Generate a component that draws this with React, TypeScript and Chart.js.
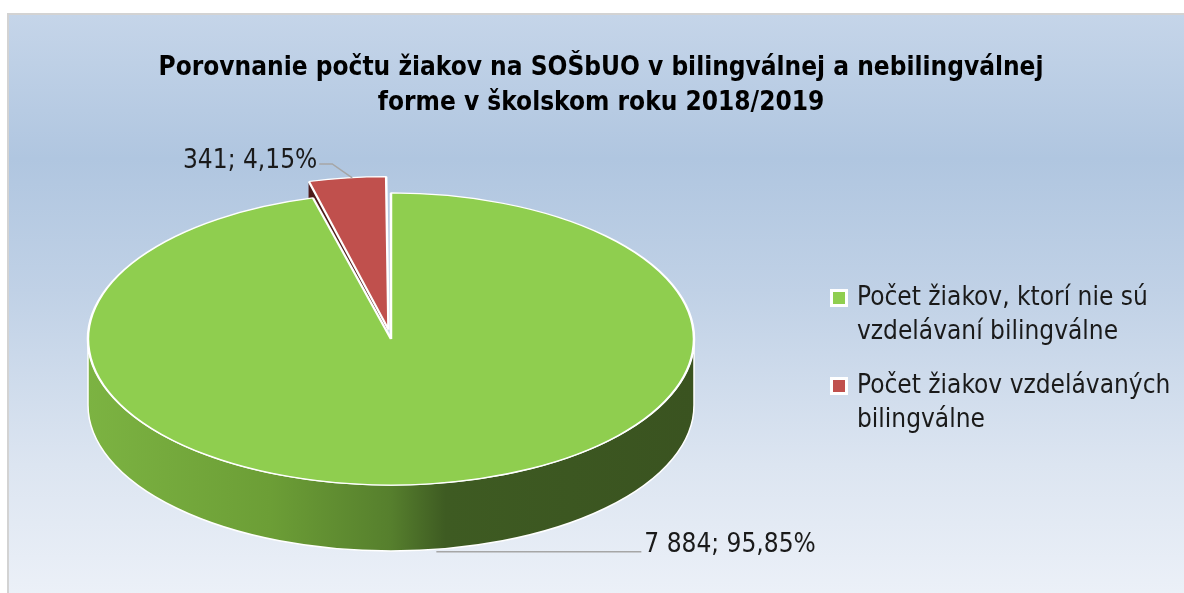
import React, { useEffect, useRef } from "react";
import { Chart, registerables } from "chart.js";

Chart.register(...registerables);

// ---- data ----
const categories = [
  "Počet žiakov, ktorí nie sú vzdelávaní bilingválne",
  "Počet žiakov vzdelávaných bilingválne",
];
const legendLines = [
  ["Počet žiakov, ktorí nie sú", "vzdelávaní bilingválne"],
  ["Počet žiakov vzdelávaných", "bilingválne"],
];
const studentCounts = [7884, 341];
const titleLines = [
  "Porovnanie počtu žiakov na SOŠbUO v bilingválnej a nebilingválnej",
  "forme v školskom roku 2018/2019",
];
const sliceColors = ["#8fce4f", "#c0504d"];
const sliceOffsets = [0, 78];

const FONT = '"Liberation Sans Narrow", "DejaVu Sans Condensed", "Open Sans", sans-serif';
const K = 0.482; // vertical squash of the pie (3D tilt)
const DEPTH = 66; // thickness of the pie

function fmtNum(v: number) {
  return String(v).replace(/\B(?=(\d{3})+(?!\d))/g, " ");
}
function fmtPct(v: number, total: number) {
  return ((v / total) * 100).toFixed(2).replace(".", ",") + "%";
}

function arcGeom(el: any) {
  const p = el.getProps(["x", "y", "startAngle", "endAngle", "outerRadius"], true);
  const off = (el.options.offset || 0) / 4;
  const circ = p.endAngle - p.startAngle;
  const fix = 1 - Math.sin(Math.min(Math.PI, circ || 0));
  const T = off + off * fix;
  const h = (p.startAngle + p.endAngle) / 2;
  const cx = p.x + Math.cos(h) * T;
  const cyC = p.y + Math.sin(h) * T; // in circle space
  return { ...p, h, T, cx, cyC };
}

const pie3d = {
  id: "pie3d",
  beforeDatasetsDraw(chart: any) {
    const ctx = chart.ctx;
    const meta = chart.getDatasetMeta(0);
    const cy = meta.data[0].y;
    const toY = (yc: number) => cy + (yc - cy) * K;
    ctx.save();
    // radial walls (facing front)
    meta.data.forEach((el: any) => {
      const g = arcGeom(el);
      const R = g.outerRadius;
      const ax = g.cx, ay = toY(g.cyC);
      const edges: number[] = [];
      if (Math.cos(g.startAngle) < -1e-6) edges.push(g.startAngle);
      if (Math.cos(g.endAngle) > 1e-6) edges.push(g.endAngle);
      edges.forEach((a) => {
        const ox = ax + Math.cos(a) * R;
        const oy = ay + Math.sin(a) * R * K;
        ctx.beginPath();
        ctx.moveTo(ax, ay);
        ctx.lineTo(ox, oy);
        ctx.lineTo(ox, oy + DEPTH);
        ctx.lineTo(ax, ay + DEPTH);
        ctx.closePath();
        ctx.fillStyle = "#4e1b1a";
        ctx.fill();
      });
    });
    // outer front walls
    meta.data.forEach((el: any, i: number) => {
      const g = arcGeom(el);
      const R = g.outerRadius;
      const ex = g.cx, ey = toY(g.cyC);
      for (const base of [-2 * Math.PI, 0, 2 * Math.PI]) {
        const lo = Math.max(g.startAngle, base);
        const hi = Math.min(g.endAngle, base + Math.PI);
        if (hi <= lo) continue;
        ctx.beginPath();
        ctx.ellipse(ex, ey, R, R * K, 0, lo, hi, false);
        ctx.ellipse(ex, ey + DEPTH, R, R * K, 0, hi, lo, true);
        ctx.closePath();
        const grad = ctx.createLinearGradient(ex - R, 0, ex + R, 0);
        if (i === 0) {
          grad.addColorStop(0, "#7cb342");
          grad.addColorStop(0.3, "#6c9e36");
          grad.addColorStop(0.5, "#567f2d");
          grad.addColorStop(0.59, "#3e5b22");
          grad.addColorStop(1, "#3a5320");
        } else {
          grad.addColorStop(0, "#a04341");
          grad.addColorStop(1, "#5c2221");
        }
        ctx.fillStyle = grad;
        ctx.fill();
        ctx.strokeStyle = "#ffffff";
        ctx.lineWidth = 1.5;
        ctx.stroke();
      }
    });
    // squash for the top faces drawn by Chart.js
    ctx.translate(0, cy);
    ctx.scale(1, K);
    ctx.translate(0, -cy);
  },
  afterDatasetsDraw(chart: any) {
    chart.ctx.restore();
  },
  afterDraw(chart: any) {
    const ctx = chart.ctx;
    const meta = chart.getDatasetMeta(0);
    const cy = meta.data[0].y;
    const toY = (yc: number) => cy + (yc - cy) * K;
    const vals: number[] = chart.data.datasets[0].data;
    const total = vals.reduce((a, b) => a + b, 0);
    ctx.save();
    // title
    ctx.font = `bold 26px ${FONT}`;
    ctx.fillStyle = "#000000";
    ctx.textAlign = "center";
    ctx.textBaseline = "middle";
    titleLines.forEach((ln, j) => ctx.fillText(ln, 592, 53 + j * 35));

    // data labels
    ctx.font = `26px ${FONT}`;
    ctx.fillStyle = "#1a1a1a";
    ctx.strokeStyle = "#a6a6a6";
    ctx.lineWidth = 1.5;
    meta.data.forEach((el: any, i: number) => {
      const g = arcGeom(el);
      const R = g.outerRadius;
      const text = `${fmtNum(vals[i])}; ${fmtPct(vals[i], total)}`;
      const px = g.cx + Math.cos(g.h) * R;
      let py = toY(g.cyC) + Math.sin(g.h) * R * K;
      if (Math.sin(g.h) > 0) {
        py += DEPTH;
        ctx.beginPath();
        ctx.moveTo(px + 6, py + 2);
        ctx.lineTo(px + 211, py + 2);
        ctx.stroke();
        ctx.textAlign = "left";
        ctx.fillText(text, px + 214, py - 5);
      } else {
        ctx.beginPath();
        ctx.moveTo(px + 5, py);
        ctx.lineTo(px - 15, py - 14);
        ctx.lineTo(px - 28, py - 14);
        ctx.stroke();
        ctx.textAlign = "right";
        ctx.fillText(text, px - 30, py - 17);
      }
    });
    // legend
    const lx = 824;
    const lineH = 34;
    const itemStart = [283, 371];
    legendLines.forEach((lines, i) => {
      const y0 = itemStart[i];
      ctx.fillStyle = "#ffffff";
      ctx.fillRect(lx - 3, y0 - 9, 18, 18);
      ctx.fillStyle = chart.data.datasets[0].backgroundColor[i];
      ctx.fillRect(lx, y0 - 6, 12, 12);
      ctx.fillStyle = "#1a1a1a";
      ctx.textAlign = "left";
      lines.forEach((ln, j) => ctx.fillText(ln, lx + 24, y0 + j * lineH));
    });
    ctx.restore();
  },
};

export default function App() {
  const ref = useRef<HTMLCanvasElement>(null);
  useEffect(() => {
    if (!ref.current) return;
    const chart = new Chart(ref.current, {
      type: "pie",
      data: {
        labels: categories,
        datasets: [
          {
            data: studentCounts,
            backgroundColor: sliceColors,
            borderColor: "#ffffff",
            borderWidth: 2.5,
            offset: sliceOffsets,
            hoverOffset: 0,
            clip: false,
          } as any,
        ],
      },
      options: {
        animation: false,
        responsive: false,
        radius: 303,
        layout: { padding: { left: 20, right: 440, top: 105, bottom: 35 } },
        plugins: {
          legend: { display: false },
          tooltip: { enabled: false },
          title: { display: false },
        },
      } as any,
      plugins: [pie3d],
    });
    return () => chart.destroy();
  }, []);
  return (
    <div
      style={{
        position: "absolute",
        left: 0,
        top: 0,
        width: 1184,
        height: 593,
        overflow: "hidden",
        background: "#ffffff",
      }}
    >
      <div
        style={{
          position: "absolute",
          left: 7,
          top: 13,
          width: 1200,
          height: 600,
          borderLeft: "2px solid #d3d3d3",
          borderTop: "2px solid #d3d3d3",
          background:
            "linear-gradient(to bottom, #c5d5e9 0%, #b0c6e0 24%, #c0d1e6 46%, #dce5f1 75%, #eef2f9 100%)",
        }}
      >
        <canvas
          ref={ref}
          width={1184}
          height={578}
          style={{ position: "absolute", left: 0, top: 0, width: 1184, height: 578 }}
        />
      </div>
    </div>
  );
}
